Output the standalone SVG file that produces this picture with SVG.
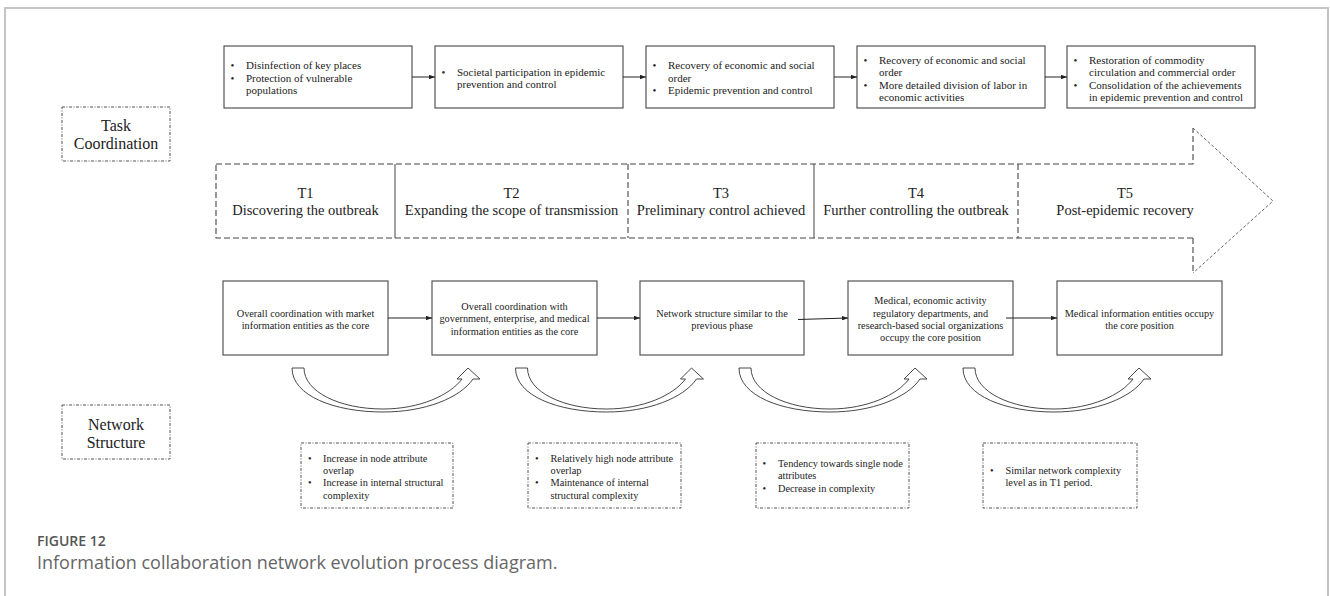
<svg xmlns="http://www.w3.org/2000/svg" width="1330" height="596" viewBox="0 0 1330 596">
<style>
.frame{fill:none;stroke:#c4c4c4;stroke-width:2}
.box{fill:#fff;stroke:#333;stroke-width:1}
.bbox{fill:#fff;stroke:#555;stroke-width:1.2}
.dd{fill:none;stroke:#555;stroke-width:1;stroke-dasharray:3 1.5 1 1.5}
.dash{fill:none;stroke:#444;stroke-width:1.1;stroke-dasharray:6 3}
.fine{fill:none;stroke:#555;stroke-width:0.9;stroke-dasharray:3 2}
.solid{fill:none;stroke:#444;stroke-width:1}
.conn{fill:none;stroke:#222;stroke-width:1;marker-end:url(#ah)}
.curv{fill:#fff;stroke:#333;stroke-width:0.9}
.t11{font-family:"Liberation Serif","Times New Roman",serif;font-size:11px;fill:#222}
.t10{font-family:"Liberation Serif","Times New Roman",serif;font-size:10.3px;fill:#222}
.tc{font-family:"Liberation Serif","Times New Roman",serif;font-size:10.3px;fill:#222;text-anchor:middle}
.tT{font-family:"Liberation Serif","Times New Roman",serif;font-size:14.5px;fill:#222;text-anchor:middle}
.tL{font-family:"Liberation Serif","Times New Roman",serif;font-size:16px;fill:#222;text-anchor:middle}
.cap1{font-family:"Open Sans","Noto Sans",sans-serif;font-size:14px;font-weight:600;fill:#555}
.cap2{font-family:"Open Sans","Noto Sans",sans-serif;font-size:18px;fill:#666}
</style>
<defs>
<marker id="ah" viewBox="0 0 8 6" refX="8" refY="3" markerWidth="6" markerHeight="4.5" orient="auto" markerUnits="userSpaceOnUse">
<path d="M0,0 L8,3 L0,6 Z" fill="#222"/>
</marker>
<path id="curved" d="M0,0 L12,0 C12,24 48,41 91,41 C128,41 158,27 170,11 L165,11 L176,0 L188,11 L181,11 C168,30 133,44 91,44 C43,44 0,28 0,0 Z"/>
</defs>
<rect width="1330" height="596" fill="#fff"/>
<rect class="frame" x="5" y="8" width="1323" height="620"/>

<g id="label-task">
<rect class="dd" x="62" y="107" width="108" height="54"/>
<text class="tL" x="116" y="131">Task</text>
<text class="tL" x="116" y="149">Coordination</text>
</g>
<g id="label-network">
<rect class="dd" x="62" y="405" width="108" height="54"/>
<text class="tL" x="116" y="429.5">Network</text>
<text class="tL" x="116" y="447.5">Structure</text>
</g>

<g id="task1">
<rect class="box" x="224" y="46" width="188" height="62"/>
<text class="t11" x="230.5" y="69">•</text><text class="t11" x="246" y="69">Disinfection of key places</text>
<text class="t11" x="230.5" y="82">•</text><text class="t11" x="246" y="82">Protection of vulnerable</text>
<text class="t11" x="246" y="94">populations</text>
</g>
<g id="task2">
<rect class="box" x="435" y="46" width="188" height="62"/>
<text class="t11" x="441.5" y="75.5">•</text><text class="t11" x="457" y="75.5">Societal participation in epidemic</text>
<text class="t11" x="457" y="87.5">prevention and control</text>
</g>
<g id="task3">
<rect class="box" x="646" y="46" width="188" height="62"/>
<text class="t11" x="652.5" y="69">•</text><text class="t11" x="668" y="69">Recovery of economic and social</text>
<text class="t11" x="668" y="81.5">order</text>
<text class="t11" x="652.5" y="94">•</text><text class="t11" x="668" y="94">Epidemic prevention and control</text>
</g>
<g id="task4">
<rect class="box" x="857" y="46" width="188" height="62"/>
<text class="t11" x="863.5" y="63.5">•</text><text class="t11" x="879" y="63.5">Recovery of economic and social</text>
<text class="t11" x="879" y="76">order</text>
<text class="t11" x="863.5" y="88.5">•</text><text class="t11" x="879" y="88.5">More detailed division of labor in</text>
<text class="t11" x="879" y="101">economic activities</text>
</g>
<g id="task5">
<rect class="box" x="1067" y="46" width="188" height="62"/>
<text class="t11" x="1073.5" y="63.5">•</text><text class="t11" x="1089" y="63.5">Restoration of commodity</text>
<text class="t11" x="1089" y="76">circulation and commercial order</text>
<text class="t11" x="1073.5" y="88.5">•</text><text class="t11" x="1089" y="88.5">Consolidation of the achievements</text>
<text class="t11" x="1089" y="101">in epidemic prevention and control</text>
</g>

<g id="timeline">
<path class="dash" d="M216,164 L1193,164 L1193,128"/>
<path class="dash" d="M1193,238 L216,238 L216,164"/>
<path class="dash" d="M1193,238 L1193,273"/>
<path class="fine" d="M1193,128 L1273,201 L1193,273"/>
<line class="solid" x1="395" y1="164" x2="395" y2="238"/>
<line class="dash" x1="628" y1="164" x2="628" y2="238"/>
<line class="solid" x1="814" y1="164" x2="814" y2="238"/>
<line class="dash" x1="1018" y1="164" x2="1018" y2="238"/>
</g>
<g id="T1"><text class="tT" x="305.5" y="198">T1</text><text class="tT" x="305.5" y="215">Discovering the outbreak</text></g>
<g id="T2"><text class="tT" x="511.5" y="198">T2</text><text class="tT" x="511.5" y="215">Expanding the scope of transmission</text></g>
<g id="T3"><text class="tT" x="721" y="198">T3</text><text class="tT" x="721" y="215">Preliminary control achieved</text></g>
<g id="T4"><text class="tT" x="916" y="198">T4</text><text class="tT" x="916" y="215">Further controlling the outbreak</text></g>
<g id="T5"><text class="tT" x="1125" y="198">T5</text><text class="tT" x="1125" y="215">Post-epidemic recovery</text></g>

<g id="net1">
<rect class="bbox" x="223" y="281" width="165" height="74"/>
<text class="tc" x="305.5" y="316.5">Overall coordination with market</text>
<text class="tc" x="305.5" y="329">information entities as the core</text>
</g>
<g id="net2">
<rect class="bbox" x="432" y="281" width="165" height="74"/>
<text class="tc" x="514.5" y="309.5">Overall coordination with</text>
<text class="tc" x="514.5" y="322">government, enterprise, and medical</text>
<text class="tc" x="514.5" y="334.5">information entities as the core</text>
</g>
<g id="net3">
<rect class="bbox" x="640" y="281" width="164" height="74"/>
<text class="tc" x="722" y="316.5">Network structure similar to the</text>
<text class="tc" x="722" y="329">previous phase</text>
</g>
<g id="net4">
<rect class="bbox" x="848" y="281" width="165" height="74"/>
<text class="tc" x="930.5" y="304">Medical, economic activity</text>
<text class="tc" x="930.5" y="316.5">regulatory departments, and</text>
<text class="tc" x="930.5" y="329">research-based social organizations</text>
<text class="tc" x="930.5" y="341">occupy the core position</text>
</g>
<g id="net5">
<rect class="bbox" x="1057" y="281" width="165" height="74"/>
<text class="tc" x="1139.5" y="316.5">Medical information entities occupy</text>
<text class="tc" x="1139.5" y="329">the core position</text>
</g>

<g id="feat1">
<rect class="dd" x="301" y="443" width="152" height="65"/>
<text class="t10" x="308" y="461.5">•</text><text class="t10" x="323" y="461.5">Increase in node attribute</text>
<text class="t10" x="323" y="473.5">overlap</text>
<text class="t10" x="308" y="486">•</text><text class="t10" x="323" y="486">Increase in internal structural</text>
<text class="t10" x="323" y="498.5">complexity</text>
</g>
<g id="feat2">
<rect class="dd" x="528" y="443" width="153" height="65"/>
<text class="t10" x="535" y="461.5">•</text><text class="t10" x="550.5" y="461.5">Relatively high node attribute</text>
<text class="t10" x="550.5" y="473.5">overlap</text>
<text class="t10" x="535" y="486">•</text><text class="t10" x="550.5" y="486">Maintenance of internal</text>
<text class="t10" x="550.5" y="498.5">structural complexity</text>
</g>
<g id="feat3">
<rect class="dd" x="756" y="443" width="153" height="65"/>
<text class="t10" x="762.5" y="466.5">•</text><text class="t10" x="778" y="466.5">Tendency towards single node</text>
<text class="t10" x="778" y="479">attributes</text>
<text class="t10" x="762.5" y="491.5">•</text><text class="t10" x="778" y="491.5">Decrease in complexity</text>
</g>
<g id="feat4">
<rect class="dd" x="983" y="443" width="154" height="65"/>
<text class="t10" x="990" y="473.5">•</text><text class="t10" x="1005.5" y="473.5">Similar network complexity</text>
<text class="t10" x="1005.5" y="486">level as in T1 period.</text>
</g>

<g id="connectors">
<line class="conn" x1="412" y1="77" x2="435" y2="77"/>
<line class="conn" x1="623" y1="77" x2="646" y2="77"/>
<line class="conn" x1="834" y1="77" x2="857" y2="77"/>
<line class="conn" x1="1045" y1="77" x2="1067" y2="77"/>
<line class="conn" x1="388" y1="318" x2="432" y2="318"/>
<line class="conn" x1="597" y1="318" x2="640" y2="318"/>
<line class="conn" x1="798" y1="319.5" x2="848" y2="318"/>
<line class="conn" x1="1006" y1="318" x2="1057" y2="318"/>
<use href="#curved" class="curv" x="292" y="368"/>
<use href="#curved" class="curv" x="515.5" y="368"/>
<use href="#curved" class="curv" x="739" y="368"/>
<use href="#curved" class="curv" x="963" y="368"/>
</g>

<g id="caption">
<text class="cap1" x="37" y="546">FIGURE 12</text>
<text class="cap2" x="37" y="569">Information collaboration network evolution process diagram.</text>
</g>
</svg>
